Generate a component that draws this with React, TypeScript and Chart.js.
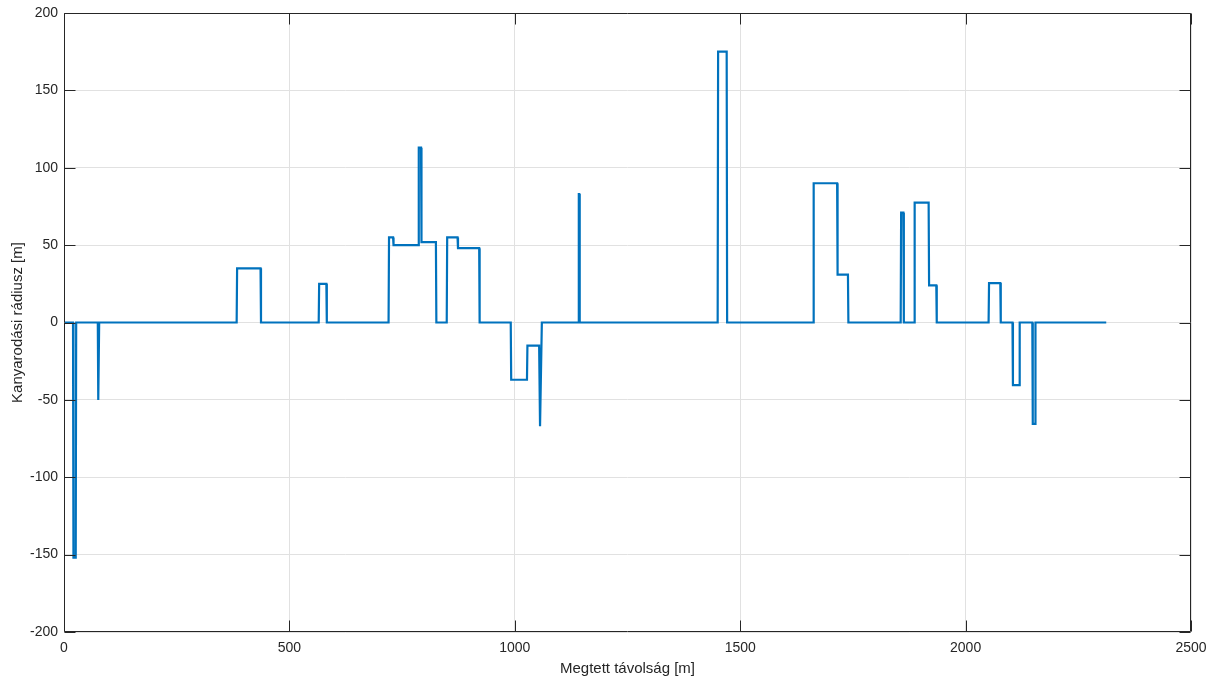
import React, { useEffect, useRef } from "react";
import { Chart, registerables } from "chart.js";

Chart.register(...registerables);

// Distance along route [m]
const distance: number[] = [
  2, 20, 21, 26, 27,
  75, 76, 77, 78,
  383, 384, 436, 437,
  565, 566, 582, 583,
  720, 721, 730, 731, 786, 787, 792, 793, 825, 826,
  849, 850, 873, 874, 921, 922,
  991, 992, 1027, 1028, 1054, 1056, 1058, 1060,
  1141, 1142, 1143, 1144,
  1450, 1451, 1470, 1471,
  1662, 1663, 1715, 1716, 1739, 1740,
  1856, 1857, 1862, 1863,
  1886, 1887, 1918, 1919, 1935, 1936,
  2051, 2052, 2077, 2078,
  2104, 2105, 2119, 2120,
  2148, 2149, 2154, 2155,
  2312,
];

// Turning radius [m]
const radius: number[] = [
  0, 0, -152, -152, 0,
  0, -50, -50, 0,
  0, 35, 35, 0,
  0, 25, 25, 0,
  0, 55, 55, 50, 50, 113, 113, 52, 52, 0,
  0, 55, 55, 48, 48, 0,
  0, -37, -37, -15, -15, -67, -67, 0,
  0, 83, 83, 0,
  0, 175, 175, 0,
  0, 90, 90, 31, 31, 0,
  0, 71, 71, 0,
  0, 77.5, 77.5, 24, 24, 0,
  0, 25.5, 25.5, 0,
  0, -40.5, -40.5, 0,
  0, -65.5, -65.5, 0,
  0,
];

const xTicks: number[] = [0, 500, 1000, 1500, 2000, 2500];
const yTicks: number[] = [-200, -150, -100, -50, 0, 50, 100, 150, 200];

const xTitle = "Megtett távolság [m]";
const yTitle = "Kanyarodási rádiusz [m]";

const AXIS_COLOR = "#262626";
const LINE_COLOR = "#0072BD";
const GRID_COLOR = "#e1e1e1";
const FONT = "'Liberation Sans', Arial, Helvetica, sans-serif";

const boxPlugin = {
  id: "matlabBox",
  afterDraw(chart: any) {
    const { ctx, chartArea, scales } = chart;
    const { left, right, top, bottom } = chartArea;
    const tl = 11;
    ctx.save();
    ctx.strokeStyle = AXIS_COLOR;
    ctx.lineWidth = 1;
    ctx.beginPath();
    const L = Math.round(left) + 0.5;
    const R = Math.round(right) - 0.5;
    const T = Math.round(top) + 0.5;
    const B = Math.round(bottom) - 0.5;
    ctx.rect(L, T, R - L, B - T);
    xTicks.forEach((v) => {
      const px = Math.round(scales.x.getPixelForValue(v)) + 0.5;
      ctx.moveTo(px, B);
      ctx.lineTo(px, B - tl);
      ctx.moveTo(px, T);
      ctx.lineTo(px, T + tl);
    });
    yTicks.forEach((v) => {
      const py = Math.round(scales.y.getPixelForValue(v)) + 0.5;
      ctx.moveTo(L, py);
      ctx.lineTo(L + tl, py);
      ctx.moveTo(R, py);
      ctx.lineTo(R - tl, py);
    });
    ctx.stroke();
    ctx.restore();
  },
};

export default function App() {
  const canvasRef = useRef<HTMLCanvasElement | null>(null);

  useEffect(() => {
    document.body.style.margin = "0";
    const canvas = canvasRef.current;
    if (!canvas) return;
    const points = distance.map((d, i) => ({ x: d, y: radius[i] }));
    const chart = new Chart(canvas, {
      type: "line",
      data: {
        datasets: [
          {
            data: points,
            borderColor: LINE_COLOR,
            borderWidth: 2.2,
            pointRadius: 0,
            tension: 0,
            fill: false,
          },
        ],
      },
      options: {
        responsive: false,
        animation: false,
        devicePixelRatio: 1,
        layout: { padding: { top: 13, right: 24, left: 0, bottom: 0 } },
        plugins: {
          legend: { display: false },
          tooltip: { enabled: false },
        },
        scales: {
          x: {
            type: "linear",
            min: 0,
            max: 2500,
            afterBuildTicks: (scale: any) => {
              scale.ticks = xTicks.map((v) => ({ value: v }));
            },
            afterFit: (scale: any) => {
              scale.height = 48;
              scale.paddingRight = 0;
              scale.paddingLeft = 0;
            },
            grid: { color: GRID_COLOR, drawTicks: false },
            border: { display: false },
            ticks: {
              color: AXIS_COLOR,
              padding: 8,
              maxRotation: 0,
              font: { family: FONT, size: 14 },
              callback: (v: any) => String(v),
            },
            title: {
              display: true,
              text: xTitle,
              color: AXIS_COLOR,
              font: { family: FONT, size: 15 },
              padding: { top: 0, bottom: 2 },
            },
          },
          y: {
            type: "linear",
            min: -200,
            max: 200,
            afterBuildTicks: (scale: any) => {
              scale.ticks = yTicks.map((v) => ({ value: v }));
            },
            afterFit: (scale: any) => {
              scale.width = 64;
              scale.paddingTop = 0;
              scale.paddingBottom = 0;
            },
            grid: { color: GRID_COLOR, drawTicks: false },
            border: { display: false },
            ticks: {
              color: AXIS_COLOR,
              padding: 6,
              font: { family: FONT, size: 14 },
              callback: (v: any) => String(v),
            },
            title: {
              display: true,
              text: yTitle,
              color: AXIS_COLOR,
              font: { family: FONT, size: 15 },
              padding: { top: 9, bottom: 0 },
            },
          },
        },
      },
      plugins: [boxPlugin],
    } as any);
    return () => chart.destroy();
  }, []);

  return (
    <div style={{ position: "fixed", left: 0, top: 0, width: 1215, height: 680, background: "#fff" }}>
      <canvas ref={canvasRef} width={1215} height={680} style={{ width: 1215, height: 680 }} />
    </div>
  );
}
